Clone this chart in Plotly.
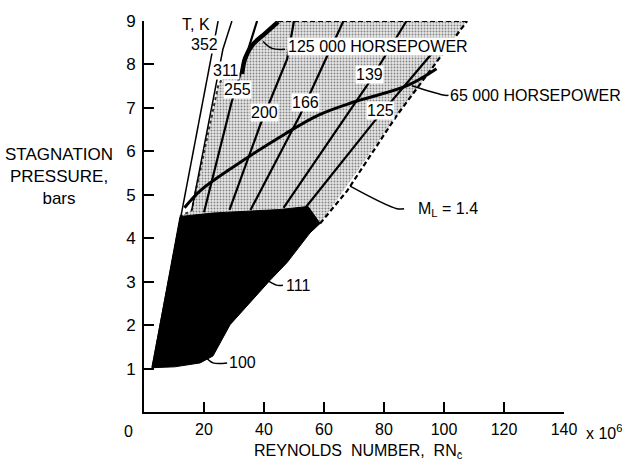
import plotly.graph_objects as go

# ---------------- data ----------------
# solid black operating region
black_x = [2.7, 11.3, 12.0, 23.0, 35.3, 45.0, 54.7, 58.7, 55.3, 47.7, 42.0, 28.7, 23.0, 18.7, 10.3, 2.7]
black_y = [1.02, 4.19, 4.50, 4.58, 4.62, 4.66, 4.73, 4.34, 4.12, 3.44, 3.03, 2.01, 1.29, 1.13, 1.04, 1.02]

# stippled region
stip_x = [12.0, 35.3, 54.7, 58.7, 84.3, 107.7, 44.7, 40.3, 36.3, 33.7, 32.7, 27.0, 24.7, 15.9, 12.0]
stip_y = [4.50, 4.62, 4.73, 4.34, 6.83, 9.0, 9.0, 8.71, 8.46, 8.14, 7.78, 7.80, 7.50, 4.64, 4.50]

# M_L = 1.4 boundary (dashed) and top boundary
ml_x = [58.7, 67.7, 84.3, 107.7]
ml_y = [4.34, 5.09, 6.83, 9.0]
top_x = [44.7, 107.7]
top_y = [9.0, 9.0]

# temperature lines, T in K
t352_x = [2.7, 24.7]
t352_y = [1.02, 9.0]
t311_x = [15.9, 26.3, 29.3]
t311_y = [4.64, 8.35, 9.0]
t255_x = [20.0, 29.2, 37.7]
t255_y = [4.60, 7.13, 9.0]
t200_x = [28.5, 38.7, 47.7, 50.0]
t200_y = [4.65, 6.60, 8.12, 9.0]
t166_x = [35.5, 52.0, 60.3, 66.5]
t166_y = [4.65, 6.83, 8.08, 9.0]
t139_x = [46.5, 74.3, 87.5]
t139_y = [4.70, 7.51, 9.0]
t125_x = [54.0, 76.3, 88.0, 99.0]
t125_y = [4.72, 6.65, 7.60, 8.50]

# horsepower curves
hp65_x = [13.5, 18.7, 30.0, 47.0, 58.0, 69.7, 87.7, 97.5]
hp65_y = [4.70, 5.09, 5.65, 6.40, 6.83, 7.13, 7.51, 7.90]
hp125_x = [32.7, 33.7, 36.3, 40.3, 44.7]
hp125_y = [7.78, 8.14, 8.46, 8.71, 8.98]

# leader lines
lead125hp_x = [39.7, 42.7, 47.0]
lead125hp_y = [8.53, 8.37, 8.35]
lead65hp_x = [89.3, 100.3, 101.5]
lead65hp_y = [7.51, 7.29, 7.29]
leadml_x = [68.7, 84.3, 86.7]
leadml_y = [5.20, 4.68, 4.68]
lead111_x = [40.9, 44.2, 46.3]
lead111_y = [3.04, 2.92, 2.92]
lead100_x = [20.3, 23.0, 27.7]
lead100_y = [1.29, 1.13, 1.13]

x_ticks = [20, 40, 60, 80, 100, 120, 140]
y_ticks = [1, 2, 3, 4, 5, 6, 7, 8, 9]

FONT = "Liberation Sans, Arial, sans-serif"
FS = 16
TFS = 17

fig = go.Figure()

# stippled region
fig.add_trace(go.Scatter(
    x=stip_x, y=stip_y, mode="lines", fill="toself",
    line=dict(color="rgba(0,0,0,0)", width=0),
    fillpattern=dict(shape=".", fgcolor="#222222", bgcolor="#e6e6e6", size=3, solidity=0.32),
    hoverinfo="skip"))

# stipple edge (jagged look)
fig.add_trace(go.Scatter(x=[12.0, 15.9, 24.7, 27.0, 32.7], y=[4.50, 4.64, 7.50, 7.80, 7.78],
                         mode="lines", line=dict(color="#333", width=2, dash="dot"), hoverinfo="skip"))
fig.add_trace(go.Scatter(x=ml_x, y=ml_y, mode="lines",
                         line=dict(color="black", width=2.2, dash="5px,3px"), hoverinfo="skip"))
fig.add_trace(go.Scatter(x=top_x, y=top_y, mode="lines",
                         line=dict(color="black", width=2.2, dash="5px,3px"), hoverinfo="skip"))

# temperature lines
for xs, ys, w in [(t352_x, t352_y, 1.5), (t311_x, t311_y, 1.5), (t255_x, t255_y, 2.2),
                  (t200_x, t200_y, 2.2), (t166_x, t166_y, 2.2), (t139_x, t139_y, 2.2),
                  (t125_x, t125_y, 2.2)]:
    fig.add_trace(go.Scatter(x=xs, y=ys, mode="lines", line=dict(color="black", width=w),
                             hoverinfo="skip"))

# black region
fig.add_trace(go.Scatter(x=black_x, y=black_y, mode="lines", fill="toself",
                         fillcolor="black", line=dict(color="black", width=1), hoverinfo="skip"))

# horsepower curves
fig.add_trace(go.Scatter(x=hp65_x, y=hp65_y, mode="lines", line=dict(color="black", width=3, shape="spline"),
                         hoverinfo="skip"))
fig.add_trace(go.Scatter(x=hp125_x, y=hp125_y, mode="lines", line=dict(color="black", width=4.5, shape="spline"),
                         hoverinfo="skip"))

# leaders
for xs, ys in [(lead125hp_x, lead125hp_y), (lead65hp_x, lead65hp_y), (leadml_x, leadml_y),
               (lead111_x, lead111_y), (lead100_x, lead100_y)]:
    fig.add_trace(go.Scatter(x=xs, y=ys, mode="lines", line=dict(color="black", width=1.5, shape="spline"),
                             hoverinfo="skip"))

ann = []
def label(x, y, text, xanchor="center", bg="white", size=FS):
    ann.append(dict(x=x, y=y, xref="x", yref="y", text=text, showarrow=False,
                    xanchor=xanchor, yanchor="middle", bgcolor=bg, borderpad=0,
                    font=dict(family=FONT, size=size, color="black")))

def ptext(px, py, text, xanchor="center", align="center", size=TFS):
    # position given in paper fractions of the plot area
    ann.append(dict(x=px, y=py, xref="paper", yref="paper", text=text, showarrow=False,
                    xanchor=xanchor, yanchor="middle", align=align,
                    font=dict(family=FONT, size=size, color="black")))

label(17.3, 8.91, "T, K", bg="rgba(0,0,0,0)")
label(20.3, 8.46, "352")
label(27.3, 7.87, "311")
label(31.3, 7.42, "255")
label(40.0, 6.90, "200")
label(53.7, 7.13, "166")
label(75.3, 7.78, "139")
label(78.7, 6.95, "125")
label(47.5, 8.41, "125 000 HORSEPOWER", xanchor="left")
label(101.7, 7.29, "65 000 HORSEPOWER", xanchor="left", bg="rgba(0,0,0,0)")
label(91.0, 4.66, "M<sub>L</sub> = 1.4", xanchor="left", bg="rgba(0,0,0,0)")
label(47.0, 2.92, "111", xanchor="left", bg="rgba(0,0,0,0)")
label(28.0, 1.13, "100", xanchor="left", bg="rgba(0,0,0,0)")

# axis texts (paper coordinates)
ptext(-0.202, 0.603, "STAGNATION<br>PRESSURE,<br>bars")
ptext(-0.036, -0.05, "0", size=16)
ptext(1.047, -0.05, "x 10<sup>6</sup>", xanchor="left", size=16)
ptext(0.258, -0.101, "REYNOLDS  NUMBER,  RN<sub>c\u0304</sub>", xanchor="left", size=16)

fig.update_layout(
    width=629, height=470,
    margin=dict(l=144, r=65, t=14, b=58),
    paper_bgcolor="white", plot_bgcolor="white",
    showlegend=False,
    annotations=ann,
    xaxis=dict(range=[0, 140], tickvals=x_ticks, ticktext=[str(v) for v in x_ticks],
               ticks="inside", ticklen=10, tickwidth=1.5, tickcolor="black",
               ticklabelstandoff=2,
               showline=True, linecolor="black", linewidth=2, showgrid=False, zeroline=False,
               tickfont=dict(family=FONT, size=16, color="black"), fixedrange=True),
    yaxis=dict(range=[0, 9], tickvals=y_ticks, ticktext=[str(v) for v in y_ticks],
               ticks="inside", ticklen=10, tickwidth=1.5, tickcolor="black",
               ticklabelstandoff=3,
               showline=True, linecolor="black", linewidth=2, showgrid=False, zeroline=False,
               tickfont=dict(family=FONT, size=TFS, color="black"), fixedrange=True),
)

fig.write_html("out.html")
